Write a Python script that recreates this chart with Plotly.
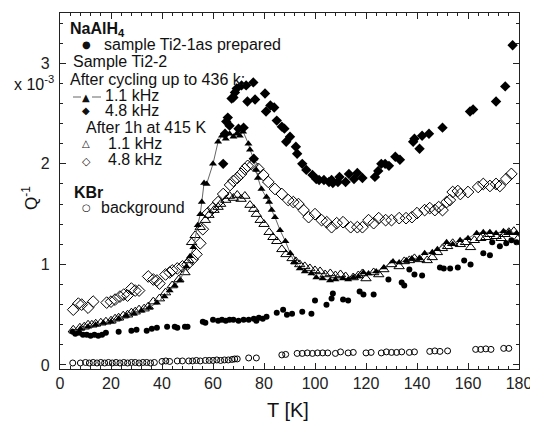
import plotly.graph_objects as go

# ---------------- data ----------------
# NaAlH4 sample Ti2-1 as prepared (filled circles)
T_prep = [5, 6, 7.5, 9, 10.5, 12, 13.5, 15, 16.5, 18, 23, 28, 30, 34, 36, 38, 42, 45, 46, 49,
          50, 56, 57, 60, 62, 63.5, 65, 66.5, 68, 70, 72, 74, 76, 77, 78, 79.5, 81, 85, 87.5, 89,
          91, 95, 98.6, 100, 104.5, 106.5, 107, 111, 113, 117.5, 119, 123, 128.8, 134, 135, 137,
          139, 142, 149, 150.5, 153, 156, 158.5, 161, 166, 168.6, 169.5, 172.5, 175, 177, 179]
Q_prep = [0.33, 0.31, 0.32, 0.30, 0.30, 0.29, 0.30, 0.29, 0.30, 0.32, 0.33, 0.34, 0.35, 0.34, 0.36,
          0.37, 0.38, 0.38, 0.37, 0.38, 0.38, 0.43, 0.42, 0.45, 0.44, 0.45, 0.44, 0.45, 0.45, 0.44,
          0.45, 0.45, 0.46, 0.44, 0.47, 0.46, 0.48, 0.52, 0.55, 0.50, 0.51, 0.53, 0.51, 0.64, 0.60,
          0.66, 0.71, 0.65, 0.64, 0.73, 0.70, 0.70, 0.85, 0.82, 0.79, 0.95, 0.90, 0.89, 0.97, 0.96,
          0.96, 0.97, 1.04, 1.00, 1.11, 1.09, 1.22, 1.18, 1.21, 1.24, 1.22]

# Sample Ti2-2 after cycling up to 436 K, 1.1 kHz (filled triangles + line)
T_cyc11 = [5, 8, 11, 14, 17, 20, 23, 26, 29, 32, 35, 38, 41, 43, 45, 47, 49.6, 51, 52.3, 54,
           55, 55.6, 56.5, 57.5, 60, 62, 63.5, 65, 66.5, 68, 69.3, 70.5, 71.8, 73.9, 74.5, 76, 77,
           77.6, 79, 81, 82, 83, 84.3, 86.3, 88.4, 90.3, 92, 94, 96, 98.6, 100.5, 103, 105.9, 108,
           111, 113, 115, 117, 119, 121, 124, 127, 130.6, 133, 135.8, 138, 141, 143, 146, 148,
           151.6, 154, 156.9, 160, 163.4, 166, 168.6, 171, 173.9, 176, 179]
Q_cyc11 = [0.33, 0.36, 0.38, 0.40, 0.42, 0.43, 0.46, 0.49, 0.51, 0.54, 0.57, 0.62, 0.68, 0.74, 0.79,
           0.84, 0.98, 1.08, 1.17, 1.39, 1.5, 1.62, 1.81, 1.80, 2.0, 2.22, 2.28, 2.25, 2.3, 2.27,
           2.3, 2.28, 2.32, 2.2, 2.14, 2.05, 1.94, 1.86, 1.75, 1.67, 1.62, 1.54, 1.47, 1.34, 1.23,
           1.11, 1.02, 0.96, 0.93, 0.91, 0.87, 0.86, 0.84, 0.85, 0.86, 0.85, 0.87, 0.88, 0.92, 0.91,
           0.93, 0.97, 1.03, 1.02, 1.04, 1.06, 1.06, 1.11, 1.12, 1.15, 1.22, 1.2, 1.24, 1.26, 1.31,
           1.32, 1.32, 1.31, 1.33, 1.32, 1.31]

# after cycling, 4.8 kHz (filled diamonds)
T_cyc48 = [64.0, 64.7, 65.2, 65.8, 66.5, 67.3, 68.0, 68.6, 69.3, 70.0, 71.2, 72.0, 73.0, 73.5, 75.8,
           76.0, 76.5, 80.4, 80.8, 82.5, 84.0, 85.0, 87.0, 88.0, 88.7, 90.2, 92.5, 93.0, 95.0, 96.6,
           99.0, 100.5, 101.6, 103.5, 105.5, 106.5, 107.0, 109.0, 109.6, 112.0, 113.3, 115.3, 116.6,
           118.6, 123.5, 124.8, 126.0, 127.5, 129.0, 131.5, 133.3, 138.5, 139.0, 141.0, 142.0, 144.7,
           150.0, 160.8, 162.0, 171.0, 174.6, 177.5]
Q_cyc48 = [2.0, 2.3, 2.42, 2.46, 2.38, 2.65, 2.66, 2.71, 2.75, 2.35, 2.78, 2.36, 2.78, 2.62, 2.81,
           2.05, 2.64, 2.70, 2.52, 2.58, 2.56, 2.43, 2.37, 2.35, 2.22, 2.27, 2.17, 2.1, 2.0, 1.94,
           1.89, 1.85, 1.84, 1.84, 1.82, 1.84, 1.81, 1.82, 1.87, 1.82, 1.9, 1.85, 1.91, 1.86, 1.87,
           1.93, 2.0, 2.0, 1.98, 2.07, 2.04, 2.22, 2.25, 2.15, 2.28, 2.3, 2.36, 2.52, 2.54, 2.62,
           2.77, 3.18]

# after 1h at 415 K, 1.1 kHz (open triangles)
T_ann11 = [5.2, 7.8, 9.5, 11, 12.5, 14, 16, 18, 20, 21.6, 23, 24.8, 26.5, 28, 29.5, 31, 33, 34.6,
           36.6, 39, 41.4, 44, 46.6, 49, 50.5, 51.6, 53, 55, 57, 58.4, 60.4, 62, 63, 65, 66.5, 68,
           69.5, 71, 72.5, 74.5, 76, 77, 78.5, 80, 82, 83.5, 85, 87, 88.6, 91, 92.5, 94, 96, 98,
           100, 102, 104, 106, 108, 110, 112, 115, 117, 118.6, 120, 123, 125, 127, 130, 133, 135,
           137, 139, 141, 144, 146, 148, 150, 152, 154, 157, 159, 161, 162.5, 165, 167, 168.5, 171,
           173, 174.5, 176, 178, 179.5]
Q_ann11 = [0.35, 0.37, 0.38, 0.40, 0.40, 0.41, 0.42, 0.43, 0.44, 0.46, 0.47, 0.49, 0.50, 0.52, 0.53,
           0.55, 0.56, 0.58, 0.63, 0.66, 0.72, 0.79, 0.85, 0.92, 1.04, 1.22, 1.29, 1.37, 1.44, 1.49,
           1.54, 1.57, 1.6, 1.64, 1.68, 1.66, 1.69, 1.65, 1.68, 1.59, 1.55, 1.5, 1.44, 1.4, 1.32,
           1.27, 1.23, 1.15, 1.1, 1.06, 1.03, 1.0, 0.98, 0.96, 0.94, 0.93, 0.9, 0.91, 0.89, 0.9,
           0.88, 0.87, 0.89, 0.91, 0.86, 0.92, 0.9, 0.95, 1.0, 0.98, 1.03, 1.04, 1.06, 1.05, 1.04,
           1.07, 1.12, 1.16, 1.18, 1.21, 1.2, 1.22, 1.17, 1.24, 1.26, 1.27, 1.3, 1.28, 1.26, 1.3,
           1.32, 1.33, 1.25]

# after 1h at 415 K, 4.8 kHz (open diamonds)
T_ann48 = [5.2, 7.2, 8.5, 11, 13, 18.3, 20, 21.6, 23.5, 25, 26.5, 28, 29.5, 31, 34.6, 36.6, 38, 39,
           41.4, 43, 44, 46, 48, 50, 52, 53.5, 55, 56, 58, 60, 62, 64, 66.7, 68, 69.5, 71, 72.5,
           73.6, 75.5, 77.8, 79.7, 81.7, 84.3, 87, 89.5, 91.5, 93.5, 95.5, 97.5, 100, 102.6, 104.6,
           106.5, 108.5, 111, 114, 116.6, 118.6, 121, 123, 125, 127.7, 130, 133, 135.7, 138, 140,
           143, 145, 147, 148.5, 150, 151.6, 152.9, 154, 156, 157, 160, 164, 166, 168.6, 171,
           172.5, 175, 177]
Q_ann48 = [0.55, 0.61, 0.6, 0.57, 0.63, 0.62, 0.63, 0.65, 0.68, 0.7, 0.69, 0.76, 0.74, 0.74, 0.88,
           0.85, 0.84, 0.81, 0.9, 0.92, 0.94, 0.96, 0.98, 1.0, 1.05, 1.1, 1.21, 1.35, 1.51, 1.56,
           1.62, 1.7, 1.79, 1.83, 1.86, 1.9, 1.95, 1.98, 1.99, 1.95, 1.89, 1.82, 1.75, 1.7, 1.64,
           1.62, 1.6, 1.54, 1.47, 1.5, 1.44, 1.42, 1.37, 1.41, 1.42, 1.37, 1.37, 1.37, 1.44, 1.41,
           1.46, 1.44, 1.44, 1.46, 1.46, 1.47, 1.51, 1.54, 1.56, 1.54, 1.57, 1.54, 1.62, 1.64, 1.72,
           1.73, 1.7, 1.72, 1.77, 1.8, 1.78, 1.8, 1.78, 1.85, 1.9]

# KBr background (open circles)
T_kbr = [5, 8, 10, 11.5, 13, 14.5, 16, 17.5, 19, 20.5, 22, 23.5, 25, 26.5, 28, 29.5, 31, 32.5, 34,
         35.5, 37, 40, 41.5, 43, 46, 48, 50.5, 52, 53.5, 55, 57, 58.5, 60, 61.5, 63, 64.5, 66, 67.5,
         68.5, 69.5, 74, 77, 87, 88.5, 93, 95, 97, 99, 101, 103, 105, 108, 110, 113, 115, 120, 122,
         126, 128, 130, 132, 134, 137, 139, 145, 147, 149, 152, 163, 165, 167, 169, 174, 176]
Q_kbr = [0.02, 0.02, 0.025, 0.02, 0.025, 0.02, 0.025, 0.02, 0.025, 0.02,
         0.025, 0.02, 0.025, 0.02, 0.025, 0.025, 0.02, 0.025, 0.025, 0.02,
         0.025, 0.035, 0.04, 0.035, 0.04, 0.04, 0.04, 0.04, 0.045, 0.04,
         0.045, 0.045, 0.045, 0.05, 0.045, 0.05, 0.05, 0.055, 0.06, 0.06,
         0.07, 0.07, 0.1, 0.105, 0.115, 0.115, 0.12, 0.115, 0.12, 0.12,
         0.12, 0.115, 0.13, 0.12, 0.125, 0.12, 0.125, 0.12, 0.13, 0.125,
         0.125, 0.13, 0.125, 0.13, 0.135, 0.14, 0.135, 0.14, 0.155, 0.155,
         0.16, 0.155, 0.165, 0.165]

x_ticks = [0, 20, 40, 60, 80, 100, 120, 140, 160, 180]
y_ticks = [0, 1, 2, 3]

# ---------------- figure ----------------
fig = go.Figure()
K = "black"
fig.add_trace(go.Scatter(x=T_kbr, y=Q_kbr, mode="markers",
                         marker=dict(symbol="circle-open", size=6, color=K, line=dict(width=1))))
fig.add_trace(go.Scatter(x=T_prep, y=Q_prep, mode="markers",
                         marker=dict(symbol="circle", size=6, color=K)))
fig.add_trace(go.Scatter(x=T_ann11, y=Q_ann11, mode="markers",
                         marker=dict(symbol="triangle-up-open", size=9, color=K, line=dict(width=1))))
fig.add_trace(go.Scatter(x=T_ann48, y=Q_ann48, mode="markers",
                         marker=dict(symbol="diamond-open", size=9, color=K, line=dict(width=1))))
fig.add_trace(go.Scatter(x=T_cyc11, y=Q_cyc11, mode="lines+markers",
                         line=dict(color="#666666", width=1),
                         marker=dict(symbol="triangle-up", size=7, color=K)))
fig.add_trace(go.Scatter(x=T_cyc48, y=Q_cyc48, mode="markers",
                         marker=dict(symbol="diamond", size=8, color=K)))

FONT = "Liberation Sans, Arial, Helvetica, sans-serif"
SYM = "DejaVu Sans, sans-serif"
OFF = 8                              # page body margin of the browser
W, H = 538 - OFF, 425 - OFF          # figure size
X0, X1, Y0, Y1 = 60, 519, 13, 369    # plot area in page pixels (for annotation placement)


def px(x):
    return (x - X0) / (X1 - X0)


def py(y):
    return (Y1 - y) / (Y1 - Y0)


ann = []


def text(s, x, y, size=16, anchor="left", family=FONT, angle=0, yanchor="middle"):
    ann.append(dict(text=s, x=px(x), y=py(y), xref="paper", yref="paper", showarrow=False,
                    xanchor=anchor, yanchor=yanchor, textangle=angle, borderpad=0,
                    font=dict(family=family, size=size, color="#111")))


# legend block
text("<b>NaAlH<sub>4</sub></b>", 69, 29)
text("●", 86, 44, size=10, anchor="center", family=SYM)
text("sample Ti2-1as prepared", 103, 44)
text("Sample Ti2-2", 72, 61)
text("After cycling up to 436 k:", 69, 79)
text("▲", 86, 97, size=10, anchor="center", family=SYM)
text("1.1 kHz", 104, 96)
text("◆", 86, 110, size=10, anchor="center", family=SYM)
text("4.8 kHz", 104, 110)
text("After 1h at 415 K", 85, 127)
text("△", 86, 144, size=10, anchor="center", family=SYM)
text("1.1 kHz", 107, 144)
text("◇", 86, 161, size=11, anchor="center", family=SYM)
text("4.8 kHz", 107, 160)
text("<b>KBr</b>", 73, 192)
text("○", 86, 208, size=10, anchor="center", family=SYM)
text("background", 100, 208)

# axis titles and multiplier
text("T [K]", 288, 410, size=20, anchor="center")
text("Q<sup>-1</sup>", 30, 198, size=17, anchor="center", angle=-90)
text("x 10<sup>-3</sup>", 55, 83, size=16, anchor="right")

shapes = [dict(type="line", xref="paper", yref="paper", x0=px(73), x1=px(81), y0=py(97), y1=py(97),
               line=dict(color="#666666", width=1)),
          dict(type="line", xref="paper", yref="paper", x0=px(92), x1=px(101), y0=py(97), y1=py(97),
               line=dict(color="#666666", width=1))]

axis_common = dict(showline=True, linecolor="#222", linewidth=1.2, mirror="allticks",
                   ticks="inside", ticklen=6, tickwidth=1, tickcolor="#222",
                   showgrid=False, zeroline=False,
                   tickfont=dict(family=FONT, size=16, color="#222"))

fig.update_layout(
    width=W, height=H,
    margin=dict(l=X0 - OFF, r=W - (X1 - OFF), t=Y0 - OFF, b=H - (Y1 - OFF), autoexpand=False),
    paper_bgcolor="white", plot_bgcolor="white",
    showlegend=False,
    xaxis=dict(range=[0, 180], tickvals=x_ticks, ticktext=[str(v) for v in x_ticks],
               minor=dict(dtick=4, ticks="inside", ticklen=3, tickcolor="#222"),
               **axis_common),
    yaxis=dict(range=[-0.04, 3.5], tickvals=y_ticks, ticktext=[str(v) for v in y_ticks],
               minor=dict(dtick=0.2, ticks="inside", ticklen=3, tickcolor="#222"),
               ticklabelstandoff=6,
               **axis_common),
    annotations=ann,
    shapes=shapes,
)

fig.write_html("out.html")
